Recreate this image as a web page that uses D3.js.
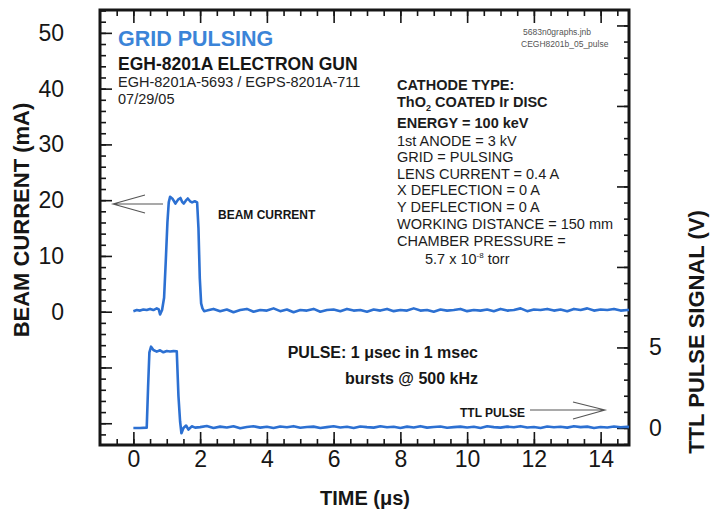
<!DOCTYPE html>
<html>
<head>
<meta charset="utf-8">
<script src="https://cdn.jsdelivr.net/npm/d3@7"></script>
<style>
html,body{margin:0;padding:0;background:#fff;}
svg{display:block;font-family:"Liberation Sans",Arial,Helvetica,sans-serif;}
</style>
</head>
<body>
<svg id="chart" width="713" height="519"></svg>
<script>
// ---------------- DATA ----------------
const xTicks = [0, 2, 4, 6, 8, 10, 12, 14];
const yLeftTicks = [0, 10, 20, 30, 40, 50];
const yRightTicks = [0, 5];

const beamTime = [0, 0.1, 0.2, 0.3, 0.4, 0.5, 0.6, 0.7, 0.76, 0.8, 0.86, 0.92, 0.97, 1.02, 1.06, 1.1,
  1.18, 1.26, 1.34, 1.41, 1.46, 1.51, 1.57, 1.63, 1.7, 1.76, 1.84, 1.91, 1.95, 1.99, 2.03, 2.07, 2.12,
  2.2, 2.4, 2.6, 2.8, 3.0, 3.2, 3.4, 3.6, 3.8, 4.0, 4.2, 4.4, 4.6, 4.8, 5.0, 5.2, 5.4, 5.6, 5.8,
  6.0, 6.2, 6.4, 6.6, 6.8, 7.0, 7.2, 7.4, 7.6, 7.8, 8.0, 8.2, 8.4, 8.6, 8.8, 9.0, 9.2, 9.4, 9.6, 9.8,
  10.0, 10.2, 10.4, 10.6, 10.8, 11.0, 11.2, 11.4, 11.6, 11.8, 12.0, 12.2, 12.4, 12.6, 12.8,
  13.0, 13.2, 13.4, 13.6, 13.8, 14.0, 14.2, 14.4, 14.6, 14.8, 14.85];
const beamCurrent = [0.1, 0.3, 0.2, 0.4, 0.3, 0.5, 0.3, 0.6, 0.4, -0.5, 0.3, 2.5, 9, 16, 19.6, 20.6,
  20.2, 19.4, 20.1, 20.4, 19.7, 19.4, 19.9, 20.3, 19.8, 19.6, 19.8, 19.6, 15, 6, 1.5, 0.6, 0.1,
  0.2, 0.5, 0.1, 0.4, -0.1, 0.3, 0.5, 0.0, 0.3, 0.2, 0.6, 0.1, 0.4, -0.1, 0.3, 0.2, 0.5, 0.0, 0.3,
  0.4, 0.1, 0.5, 0.2, 0.3, 0.0, 0.4, 0.2, 0.5, 0.1, 0.3, 0.2, 0.6, 0.2, 0.3, 0.0, 0.4, 0.2, 0.3, 0.5,
  0.1, 0.3, 0.2, 0.4, 0.1, 0.5, 0.2, 0.3, 0.6, 0.1, 0.4, 0.3, 0.5, 0.2, 0.4,
  0.1, 0.5, 0.3, 0.6, 0.2, 0.4, 0.3, 0.5, 0.2, 0.3, 0.3];

const ttlTime = [0, 0.2, 0.4, 0.44, 0.48, 0.53, 0.6, 0.7, 0.8, 0.9, 1.0, 1.1, 1.2, 1.3, 1.35, 1.4,
  1.44, 1.5, 1.58, 1.65, 1.75, 1.85,
  2.0, 2.2, 2.4, 2.6, 2.8, 3.0, 3.2, 3.4, 3.6, 3.8, 4.0, 4.2, 4.4, 4.6, 4.8, 5.0, 5.2, 5.4, 5.6, 5.8,
  6.0, 6.2, 6.4, 6.6, 6.8, 7.0, 7.2, 7.4, 7.6, 7.8, 8.0, 8.2, 8.4, 8.6, 8.8, 9.0, 9.2, 9.4, 9.6, 9.8,
  10.0, 10.2, 10.4, 10.6, 10.8, 11.0, 11.2, 11.4, 11.6, 11.8, 12.0, 12.2, 12.4, 12.6, 12.8,
  13.0, 13.2, 13.4, 13.6, 13.8, 14.0, 14.2, 14.4, 14.6, 14.8, 14.85];
const ttlSignal = [0.0, 0.0, 0.02, 2.5, 4.7, 5.05, 4.84, 4.74, 4.82, 4.7, 4.78, 4.75, 4.77, 4.76, 2.0, 0.4,
  -0.33, 0.0, 0.15, -0.1, 0.1, 0.02,
  0.05, 0.12, 0.0, 0.08, 0.03, 0.1, -0.02, 0.06, 0.1, 0.02, 0.07, 0.0, 0.09, 0.04, 0.11, 0.01, 0.06, 0.08, 0.0, 0.05,
  0.1, 0.03, 0.07, 0.0, 0.09, 0.05, 0.02, 0.1, 0.04, 0.07, 0.0, 0.08, 0.03, 0.11, 0.02, 0.06, 0.09, 0.01, 0.05, 0.08,
  0.03, 0.07, 0.0, 0.1, 0.05, 0.02, 0.08, 0.04, 0.11, 0.03, 0.06, 0.0, 0.09, 0.04, 0.07,
  0.02, 0.1, 0.05, 0.08, 0.0, 0.06, 0.03, 0.09, 0.04, 0.07, 0.05];

const infoLines = [
  {text: "CATHODE TYPE:", bold: true},
  {text: "ThO|2| COATED Ir DISC", bold: true},
  {text: "ENERGY = 100 keV", bold: true},
  {text: "1st ANODE = 3 kV", bold: false},
  {text: "GRID = PULSING", bold: false},
  {text: "LENS CURRENT = 0.4 A", bold: false},
  {text: "X DEFLECTION = 0 A", bold: false},
  {text: "Y DEFLECTION = 0 A", bold: false},
  {text: "WORKING DISTANCE = 150 mm", bold: false},
  {text: "CHAMBER PRESSURE =", bold: false}
];

// ---------------- LAYOUT ----------------
const svg = d3.select("#chart");
const L = 100, R = 629, T = 10, B = 445;
const x = d3.scaleLinear().domain([-1, 14.85]).range([L, R]);
const yL = d3.scaleLinear().domain([-23.9, 54.1]).range([B, T]);
const yR = d3.scaleLinear().domain([-1.06, 25.96]).range([B, T]);

const blue = "#2c70d2";
const ink = "#161616";

function addAxis(axis, tx, ty) {
  const g = svg.append("g").attr("transform", `translate(${tx},${ty})`).call(axis);
  g.select(".domain").remove();
  g.selectAll(".tick line").attr("stroke", ink).attr("stroke-width", 1.6);
  g.selectAll("text").attr("fill", ink);
  return g;
}
const range = (a, b, s) => d3.range(a, b + s / 2, s);

// bottom
addAxis(d3.axisBottom(x).tickValues(range(-0.5, 14.5, 0.5)).tickSize(-6).tickFormat(""), 0, B);
const xb = addAxis(d3.axisBottom(x).tickValues(xTicks).tickSize(-13).tickPadding(22).tickFormat(d3.format("d")), 0, B);
xb.selectAll("text").attr("font-size", 23).attr("dy", "0");
// top
addAxis(d3.axisTop(x).tickValues(range(-0.5, 14.5, 0.5)).tickSize(-6).tickFormat(""), 0, T);
addAxis(d3.axisTop(x).tickValues(xTicks).tickSize(-13).tickFormat(""), 0, T);
// left
addAxis(d3.axisLeft(yL).tickValues(range(-22, 54, 2)).tickSize(-6).tickFormat(""), L, 0);
const yl = addAxis(d3.axisLeft(yL).tickValues(range(-20, 50, 10)).tickSize(-12).tickPadding(36)
  .tickFormat(d => yLeftTicks.includes(d) ? d : ""), L, 0);
yl.selectAll("text").attr("font-size", 23);
// right
addAxis(d3.axisRight(yR).tickValues(range(-1, 25, 1)).tickSize(-5).tickFormat(""), R, 0);
const yr = addAxis(d3.axisRight(yR).tickValues(range(0, 25, 5)).tickSize(-12).tickPadding(20)
  .tickFormat(d => yRightTicks.includes(d) ? d : ""), R, 0);
yr.selectAll("text").attr("font-size", 23);

// frame
svg.append("rect").attr("x", L).attr("y", T).attr("width", R - L).attr("height", B - T)
  .attr("fill", "none").attr("stroke", ink).attr("stroke-width", 3);

// traces
const beamData = beamTime.map((t, i) => [t, beamCurrent[i]]);
const ttlData = ttlTime.map((t, i) => [t, ttlSignal[i]]);
svg.append("path").datum(beamData)
  .attr("d", d3.line().x(d => x(d[0])).y(d => yL(d[1])))
  .attr("fill", "none").attr("stroke", blue).attr("stroke-width", 2.6).attr("stroke-linejoin", "round");
svg.append("path").datum(ttlData)
  .attr("d", d3.line().x(d => x(d[0])).y(d => yR(d[1])))
  .attr("fill", "none").attr("stroke", blue).attr("stroke-width", 2.6).attr("stroke-linejoin", "round");

// axis titles
svg.append("text").attr("transform", "translate(29,220) rotate(-90)").attr("text-anchor", "middle")
  .attr("font-weight", "bold").attr("font-size", 22).attr("fill", ink).text("BEAM CURRENT (mA)");
svg.append("text").attr("transform", "translate(704,332) rotate(-90)").attr("text-anchor", "middle")
  .attr("font-weight", "bold").attr("font-size", 22).attr("fill", ink).text("TTL PULSE SIGNAL (V)");
svg.append("text").attr("x", 365).attr("y", 505).attr("text-anchor", "middle")
  .attr("font-weight", "bold").attr("font-size", 20).attr("fill", ink).text("TIME (μs)");

// titles
svg.append("text").attr("x", 118).attr("y", 46).attr("font-weight", "bold").attr("font-size", 21.5)
  .attr("fill", "#3b84d8").text("GRID PULSING");
svg.append("text").attr("x", 118).attr("y", 70).attr("font-weight", "bold").attr("font-size", 17.5)
  .attr("fill", ink).text("EGH-8201A ELECTRON GUN");
svg.append("text").attr("x", 118).attr("y", 87).attr("font-size", 14.5)
  .attr("fill", "#222").text("EGH-8201A-5693 / EGPS-8201A-711");
svg.append("text").attr("x", 118).attr("y", 104).attr("font-size", 14.5)
  .attr("fill", "#222").text("07/29/05");

// file notes
svg.append("text").attr("x", 523).attr("y", 35).attr("font-size", 8.5).attr("fill", "#555").text("5683n0graphs.jnb");
svg.append("text").attr("x", 521).attr("y", 47).attr("font-size", 8.5).attr("fill", "#555").text("CEGH8201b_05_pulse");

// info block
const info = svg.append("g").attr("fill", "#1c1c1c").attr("font-size", 14.5);
const infoY = [90, 107, 128, 146, 162, 179, 195, 212, 229, 246];
infoLines.forEach((ln, i) => {
  const t = info.append("text").attr("x", 397).attr("y", infoY[i]).attr("font-weight", ln.bold ? "bold" : "normal");
  const parts = ln.text.split("|");
  parts.forEach((p, j) => {
    const ts = t.append("tspan").text(p);
    if (j === 1) ts.attr("font-size", 9).attr("dy", 4);
    if (j === 2) ts.attr("dy", -4);
  });
});
const press = info.append("text").attr("x", 425).attr("y", 264);
press.append("tspan").text("5.7 x 10");
press.append("tspan").attr("font-size", 8).attr("dy", -6).text("-8");
press.append("tspan").attr("dy", 6).text(" torr");

// annotations
svg.append("text").attr("x", 218).attr("y", 219).attr("font-weight", "bold").attr("font-size", 12)
  .attr("fill", ink).text("BEAM CURRENT");
svg.append("text").attr("x", 460).attr("y", 417).attr("font-weight", "bold").attr("font-size", 12)
  .attr("fill", ink).text("TTL PULSE");
svg.append("text").attr("x", 478).attr("y", 358).attr("text-anchor", "end").attr("font-weight", "bold")
  .attr("font-size", 16).attr("fill", ink).text("PULSE: 1 μsec in 1 msec");
svg.append("text").attr("x", 478).attr("y", 384).attr("text-anchor", "end").attr("font-weight", "bold")
  .attr("font-size", 16).attr("fill", ink).text("bursts @ 500 kHz");

// arrows
const arrow = svg.append("g").attr("stroke", "#555").attr("stroke-width", 1.1).attr("fill", "none");
arrow.append("path").attr("d", "M163,204 L113,204 M145,195 L113,204 L145,213");
arrow.append("path").attr("d", "M530,410 L605,410 M573,402 L605,410 L573,419");
</script>
</body>
</html>
